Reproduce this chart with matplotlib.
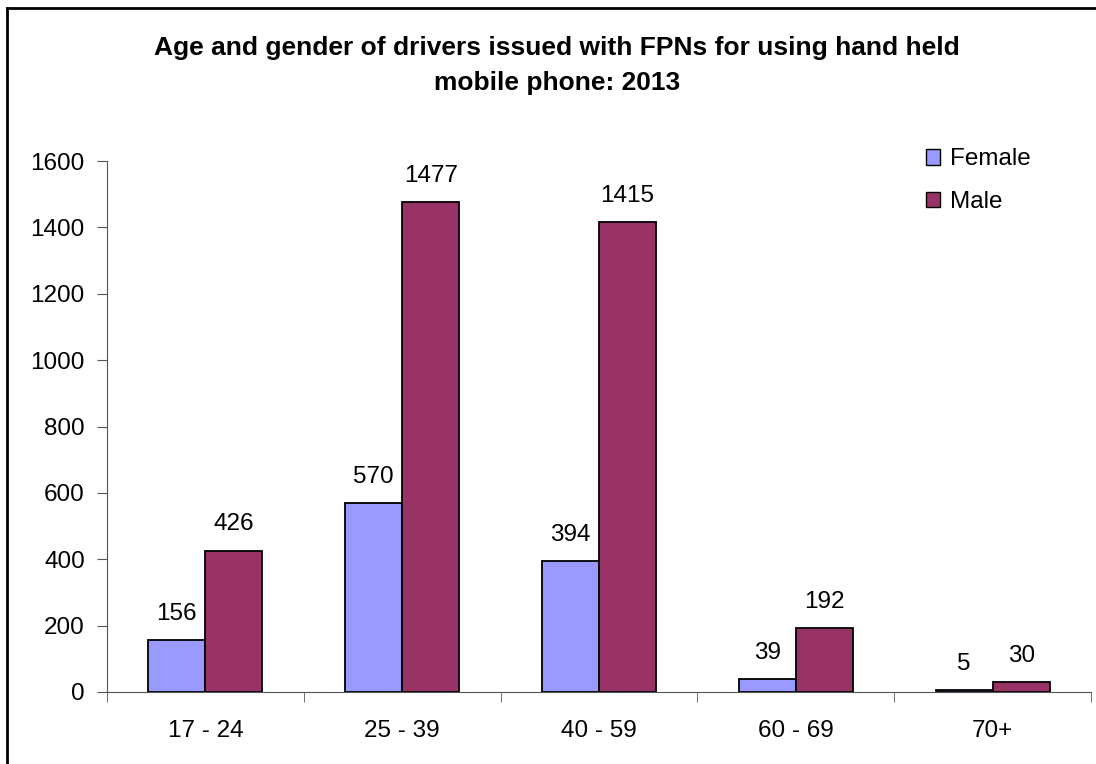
import matplotlib
matplotlib.use("Agg")
import matplotlib.pyplot as plt
from matplotlib.patches import Patch
from matplotlib.lines import Line2D
import numpy as np

categories = ["17 - 24", "25 - 39", "40 - 59", "60 - 69", "70+"]
female = [156, 570, 394, 39, 5]
male = [426, 1477, 1415, 192, 30]
yticks = [0, 200, 400, 600, 800, 1000, 1200, 1400, 1600]

plt.rcParams['font.family'] = ['Liberation Sans', 'DejaVu Sans']

fig = plt.figure(figsize=(10.96, 7.64), dpi=100)
ax = fig.add_axes([107/1096, 1-692/764, (1091-107)/1096, (692-161)/764])

FS = 17.5
x = np.arange(len(categories))
w = 0.29
fc, mc = "#9999FF", "#993366"
b1 = ax.bar(x - w/2, female, w, color=fc, edgecolor="black", linewidth=1.3)
b2 = ax.bar(x + w/2, male, w, color=mc, edgecolor="black", linewidth=1.3)

for bars, vals in ((b1, female), (b2, male)):
    for r, v in zip(bars, vals):
        ax.annotate(str(v), (r.get_x() + r.get_width()/2, v), xytext=(0, 11),
                    textcoords="offset points", ha="center", va="bottom", fontsize=FS)

ax.set_xlim(-0.5, len(categories) - 0.5)
ax.set_ylim(0, 1600)
ax.set_yticks(yticks)
ax.set_yticklabels([str(t) for t in yticks], fontsize=FS)
ax.set_xticks(x)
ax.set_xticklabels(categories, fontsize=FS)
ax.set_xticks(np.arange(len(categories) + 1) - 0.5, minor=True)
ax.tick_params(axis="x", which="major", length=0, pad=20)
ax.tick_params(axis="x", which="minor", length=7, direction="out", color="#555555")
ax.tick_params(axis="y", length=7, direction="out", color="#555555", pad=9)
for s in ("top", "right"):
    ax.spines[s].set_visible(False)
for s in ("left", "bottom"):
    ax.spines[s].set_color("#555555")

ax.legend(handles=[Patch(facecolor=fc, edgecolor="black", label="Female"),
                   Patch(facecolor=mc, edgecolor="black", label="Male")],
          loc="upper left", bbox_to_anchor=(0.81, 1.065), frameon=False, fontsize=FS,
          handlelength=0.6, handleheight=0.6, handletextpad=0.4, labelspacing=0.85)

fig.text(557/1096, 1-55/764, "Age and gender of drivers issued with FPNs for using hand held",
         ha="center", va="baseline", fontsize=19, fontweight="bold")
fig.text(557/1096, 1-90/764, "mobile phone: 2013",
         ha="center", va="baseline", fontsize=19, fontweight="bold")

fig.add_artist(Line2D([7/1096, 7/1096], [0, 1-8/764], color="black", linewidth=2,
                      transform=fig.transFigure))
fig.add_artist(Line2D([7/1096, 1], [1-8/764, 1-8/764], color="black", linewidth=2,
                      transform=fig.transFigure))

fig.savefig("out.png", dpi=100)
